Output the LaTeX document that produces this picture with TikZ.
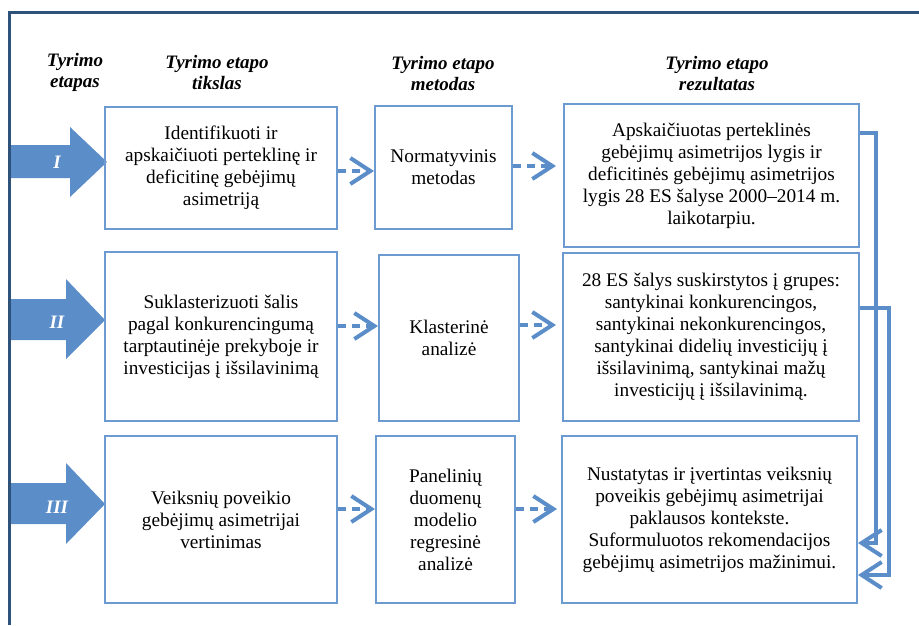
\documentclass[tikz,border=0pt]{standalone}
\usepackage{fontspec}
\setmainfont{Liberation Serif}
\usetikzlibrary{arrows.meta}
\definecolor{boxblue}{RGB}{108,155,210}
\definecolor{fillblue}{RGB}{91,141,200}
\definecolor{framecol}{RGB}{47,82,122}
\begin{document}
\begin{tikzpicture}[x=1pt,y=-1pt,
  stagebox/.style={draw=boxblue, line width=2pt, align=center, inner sep=0pt,
    font=\fontsize{19.3}{22}\selectfont},
  head/.style={align=center, font=\fontsize{19}{21}\selectfont\bfseries\itshape},
  dashflow/.style={draw=fillblue, line width=4pt, dash pattern=on 8pt off 6pt,
    -{Straight Barb[length=20pt,width=26pt]}},
  feedback/.style={draw=fillblue, line width=4pt,
    -{Straight Barb[length=20pt,width=26pt]}},
  bigarrow/.style={fill=fillblue},
  numeral/.style={text=white, font=\fontsize{19}{21}\selectfont\bfseries\itshape}
]
\useasboundingbox (0,0) rectangle (919,625);

% column headings
\node[head] (h0) at (75,72) {Tyrimo\\etapas};
\node[head] (h1) at (217,73) {Tyrimo etapo\\tikslas};
\node[head] (h2) at (443,74) {Tyrimo etapo\\metodas};
\node[head] (h3) at (717,74) {Tyrimo etapo\\rezultatas};

% stage arrows
\fill[bigarrow] (10,145) -- (70,145) -- (70,127) -- (107,162) -- (70,197) -- (70,178) -- (10,178) -- cycle;
\fill[bigarrow] (10,299) -- (66,299) -- (66,279) -- (105,320) -- (66,359) -- (66,340) -- (10,340) -- cycle;
\fill[bigarrow] (10,483) -- (66,483) -- (66,463) -- (105,504) -- (66,544) -- (66,524) -- (10,524) -- cycle;
\node[numeral] (n1) at (57,162) {I};
\node[numeral] (n2) at (57,322) {II};
\node[numeral] (n3) at (57,507) {III};

% goals
\node[stagebox, minimum width=232pt, minimum height=122pt] (t1) at (221,168)
  {Identifikuoti ir\\apskaičiuoti perteklinę ir\\deficitinę gebėjimų\\asimetriją};
\node[stagebox, minimum width=232pt, minimum height=169pt] (t2) at (221,336.5)
  {Suklasterizuoti šalis\\pagal konkurencingumą\\tarptautinėje prekyboje ir\\investicijas į išsilavinimą};
\node[stagebox, minimum width=232pt, minimum height=167pt] (t3) at (221,519.5)
  {Veiksnių poveikio\\gebėjimų asimetrijai\\vertinimas};

% methods
\node[stagebox, minimum width=137pt, minimum height=123pt] (m1) at (443.5,167.5)
  {Normatyvinis\\metodas};
\node[stagebox, minimum width=140pt, minimum height=166pt] (m2) at (449,338)
  {Klasterinė\\analizė};
\node[stagebox, minimum width=139pt, minimum height=167pt] (m3) at (445.5,519.5)
  {Panelinių\\duomenų\\modelio\\regresinė\\analizė};

% results
\node[stagebox, minimum width=295pt, minimum height=143pt] (r1) at (711.5,175.5)
  {Apskaičiuotas perteklinės\\gebėjimų asimetrijos lygis ir\\deficitinės gebėjimų asimetrijos\\lygis 28 ES šalyse 2000–2014 m.\\laikotarpiu.};
\node[stagebox, minimum width=296pt, minimum height=168pt] (r2) at (711,337)
  {28 ES šalys suskirstytos į grupes:\\santykinai konkurencingos,\\santykinai nekonkurencingos,\\santykinai didelių investicijų į\\išsilavinimą, santykinai mažų\\investicijų į išsilavinimą.};
\node[stagebox, minimum width=295pt, minimum height=167pt] (r3) at (709.5,519.5)
  {Nustatytas ir įvertintas veiksnių\\poveikis gebėjimų asimetrijai\\paklausos kontekste.\\Suformuluotos rekomendacijos\\gebėjimų asimetrijos mažinimui.};

% flow between columns
\draw[dashflow] (t1.east |- 0,171) -- (m1.west |- 0,171);
\draw[dashflow, shorten >=7pt] (m1.east |- 0,166) -- (r1.west |- 0,166);
\draw[dashflow] (t2.east |- 0,326) -- (m2.west |- 0,326);
\draw[dashflow, shorten >=6pt] (m2.east |- 0,325) -- (r2.west |- 0,325);
\draw[dashflow] (t3.east |- 0,509) -- (m3.west |- 0,509);
\draw[dashflow, shorten >=4pt] (m3.east |- 0,509) -- (r3.west |- 0,509);

% results feeding the final stage
\coordinate (k1) at (876,133);
\coordinate (k2) at (876,543);
\coordinate (k3) at (889,308);
\coordinate (k4) at (889,575);
\draw[feedback] (r1.east |- k1) -- (k1) -- (k2) -- (r3.east |- k2);
\draw[feedback] (r2.east |- k3) -- (k3) -- (k4) -- (r3.east |- k4);

% frame
\draw[framecol, line width=3pt] (9,625) -- (9,12.5) -- (919,12.5);
\end{tikzpicture}
\end{document}
